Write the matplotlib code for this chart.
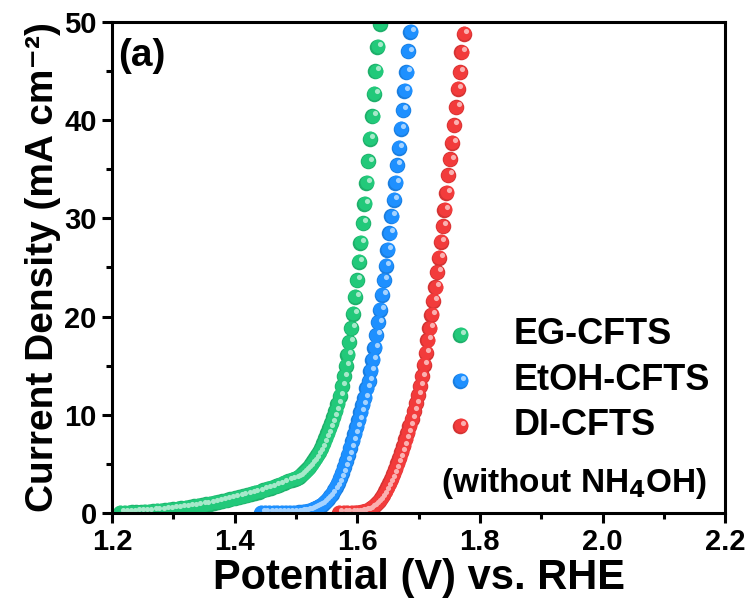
import numpy as np
import matplotlib
matplotlib.use("Agg")
import matplotlib.pyplot as plt
import matplotlib.transforms as mtransforms
from matplotlib.colors import to_rgb

plt.rcParams['font.family'] = ['Liberation Sans', 'DejaVu Sans']
plt.rcParams['font.weight'] = 'bold'
plt.rcParams['mathtext.default'] = 'bf'

# LSV curves, potential (V vs. RHE) and current density (mA cm^-2)
eg_v = [1.213, 1.220, 1.227, 1.233, 1.240, 1.247, 1.253, 1.260, 1.267, 1.273,
        1.280, 1.287, 1.293, 1.300, 1.307, 1.313, 1.320, 1.327, 1.333, 1.340,
        1.347, 1.353, 1.360, 1.367, 1.373, 1.380, 1.387, 1.393, 1.400, 1.407,
        1.413, 1.420, 1.427, 1.433, 1.440, 1.447, 1.453, 1.460, 1.467, 1.473,
        1.480, 1.487, 1.493, 1.4985, 1.5018, 1.5051, 1.5084, 1.5117, 1.5150,
        1.5183, 1.5216, 1.5249, 1.5282, 1.5315, 1.5348, 1.5381, 1.5414, 1.5447,
        1.5480, 1.5513, 1.5546, 1.5579, 1.5612, 1.5645, 1.5678, 1.5711, 1.5744,
        1.5776, 1.5809, 1.5837, 1.5865, 1.5897, 1.5930, 1.5963, 1.5989, 1.6021,
        1.6049, 1.6087, 1.6114, 1.6147, 1.6175, 1.6201, 1.6245, 1.6273, 1.6294,
        1.6327, 1.6364]
eg_j = [0.01, 0.02, 0.03, 0.05, 0.07, 0.09, 0.12, 0.15, 0.18, 0.21,
        0.25, 0.29, 0.33, 0.38, 0.43, 0.48, 0.54, 0.60, 0.66, 0.73,
        0.80, 0.87, 0.95, 1.03, 1.11, 1.20, 1.29, 1.39, 1.49, 1.59,
        1.70, 1.81, 1.93, 2.05, 2.18, 2.31, 2.45, 2.59, 2.74, 2.89,
        3.05, 3.22, 3.40, 3.48, 3.55, 3.70, 3.86, 4.04, 4.24,
        4.46, 4.70, 4.97, 5.25, 5.55, 5.90, 6.25, 6.65, 7.10,
        7.60, 8.10, 8.65, 9.20, 9.80, 10.40, 11.10, 11.95, 12.90,
        13.9, 15.0, 16.1, 17.4, 18.8, 20.3, 22.0, 23.7, 25.6,
        27.5, 29.5, 31.5, 33.6, 35.8, 38.1, 40.4, 42.7, 45.0,
        47.5, 49.8]

etoh_v = [1.443, 1.449, 1.456, 1.463, 1.469, 1.476, 1.483, 1.489, 1.496,
          1.5025, 1.5058, 1.5091, 1.5124, 1.5157, 1.5190, 1.5223, 1.5256,
          1.5289, 1.5322, 1.5355, 1.5388, 1.5421, 1.5454, 1.5487, 1.5520,
          1.5553, 1.5586, 1.5619, 1.5652, 1.5685, 1.5718, 1.5751, 1.5784,
          1.5817, 1.5850, 1.5883, 1.5916, 1.5949, 1.5982, 1.6015, 1.6048,
          1.6081, 1.6114, 1.6147, 1.6185, 1.6212, 1.6245, 1.6278, 1.6305,
          1.6338, 1.6371, 1.6403, 1.6429, 1.6462, 1.6490, 1.6522, 1.6555,
          1.6593, 1.6620, 1.6642, 1.6674, 1.6707, 1.6740, 1.6767, 1.6800,
          1.6828, 1.6865]
etoh_j = [0.00, 0.00, 0.00, 0.00, 0.00, 0.00, 0.01, 0.01, 0.02,
          0.03, 0.05, 0.07, 0.10, 0.14, 0.19, 0.25, 0.32,
          0.40, 0.49, 0.60, 0.72, 0.86, 1.02, 1.21, 1.43,
          1.68, 1.97, 2.30, 2.67, 3.09, 3.56, 4.08, 4.65,
          5.27, 5.93, 6.62, 7.33, 8.05, 8.78, 9.50, 10.25,
          11.00, 11.75, 12.70, 13.4, 14.5, 15.6, 16.8, 18.1,
          19.4, 20.7, 22.2, 23.7, 25.2, 26.8, 28.5, 30.2,
          31.9, 33.6, 35.4, 37.2, 39.1, 41.0, 43.0, 44.9,
          47.0, 49.0]

di_v = [1.570, 1.577, 1.583, 1.590, 1.5961, 1.5994, 1.6027, 1.6060, 1.6093,
        1.6126, 1.6159, 1.6192, 1.6225, 1.6258, 1.6291, 1.6324, 1.6357,
        1.6390, 1.6423, 1.6456, 1.6489, 1.6522, 1.6555, 1.6588, 1.6621,
        1.6654, 1.6687, 1.6720, 1.6753, 1.6786, 1.6819, 1.6852, 1.6885,
        1.6918, 1.6951, 1.6984, 1.7017, 1.7050, 1.7083, 1.7115, 1.7143,
        1.7176, 1.7208, 1.7236, 1.7273, 1.7301, 1.7334, 1.7360, 1.7393,
        1.7420, 1.7453, 1.7481, 1.7513, 1.7546, 1.7572, 1.7611, 1.7638,
        1.7670, 1.7698, 1.7736]
di_j = [0.00, 0.00, 0.00, 0.00, 0.01, 0.02, 0.04, 0.07, 0.11,
        0.17, 0.25, 0.35, 0.47, 0.62, 0.80, 1.02, 1.27,
        1.55, 1.87, 2.22, 2.61, 3.03, 3.49, 3.98, 4.50,
        5.05, 5.62, 6.22, 6.85, 7.50, 8.18, 8.88, 9.60,
        10.35, 11.15, 12.00, 12.90, 13.9, 15.1, 16.3, 17.6,
        18.8, 20.2, 21.6, 23.0, 24.5, 26.0, 27.6, 29.2,
        30.9, 32.6, 34.4, 36.0, 37.7, 39.5, 41.3, 43.2,
        44.9, 46.9, 48.8]

labels = ['EG-CFTS', 'EtOH-CFTS', 'DI-CFTS']
colors = ['#22C97A', '#1E90FF', '#F23B3B']

MARKER_S = 125


def shade(color, k):
    r, g, b = to_rgb(color)
    if k < 1:
        return (r * k, g * k, b * k)
    t = k - 1
    return (r + (1 - r) * t, g + (1 - g) * t, b + (1 - b) * t)


def spheres(ax, x, y, color, base_trans, s=MARKER_S, clip=True):
    """Draw shaded ball markers: soft rim, body, and a small specular spot."""
    fig = ax.figure
    body = mtransforms.offset_copy(base_trans, fig=fig, x=0.3, y=0.4, units='points')
    spot = mtransforms.offset_copy(base_trans, fig=fig, x=1.9, y=2.1, units='points')
    ax.scatter(x, y, s=s, color=shade(color, 0.87), linewidths=0,
               transform=base_trans, clip_on=clip)
    ax.scatter(x, y, s=s * 0.8, color=color, linewidths=0,
               transform=body, clip_on=clip)
    ax.scatter(x, y, s=s * 0.11, color=shade(color, 1.6), linewidths=0,
               transform=spot, clip_on=clip)


fig = plt.figure(figsize=(7.53, 6.07), dpi=100)
ax = fig.add_axes([0.1487, 0.1549, 0.8143, 0.8089])

for v, j, c in zip([eg_v, etoh_v, di_v], [eg_j, etoh_j, di_j], colors):
    spheres(ax, v, j, c, ax.transData)

ax.set_xlim(1.2, 2.2)
ax.set_ylim(0, 50)
ax.set_xticks([1.2, 1.4, 1.6, 1.8, 2.0, 2.2])
ax.set_xticks(np.arange(1.3, 2.2, 0.2), minor=True)
ax.set_yticks([0, 10, 20, 30, 40, 50])
ax.set_yticks([5, 15, 25, 35, 45], minor=True)
ax.set_xticklabels(['1.2', '1.4', '1.6', '1.8', '2.0', '2.2'])

for sp in ax.spines.values():
    sp.set_linewidth(2.2)
ax.tick_params(which='major', direction='out', length=7, width=2.2,
               labelsize=21, pad=4, top=False, right=False)
ax.tick_params(which='minor', direction='out', length=4, width=2.2,
               top=False, right=False)

ax.set_xlabel('Potential (V) vs. RHE', fontsize=30, fontweight='bold', labelpad=1)
ax.set_ylabel('Current Density (mA cm\u207b\u00b2)', fontsize=28,
              fontweight='bold', labelpad=2)

ax.text(0.01, 0.93, '(a)', transform=ax.transAxes, fontsize=28,
        fontweight='bold', va='center', ha='left')

# legend rows drawn by hand so the ball markers match the data
rows_y = [0.3625, 0.2688, 0.1772]
for ry, lab, c in zip(rows_y, labels, colors):
    spheres(ax, [0.568], [ry], c, ax.transAxes, clip=False)
    ax.text(0.655, ry, lab, transform=ax.transAxes, fontsize=26,
            fontweight='bold', va='center', ha='left')

ax.text(0.97, 0.061, '(without NH$_4$OH)', transform=ax.transAxes,
        fontsize=24, fontweight='bold', va='center', ha='right')

fig.savefig('out.png', dpi=100)
